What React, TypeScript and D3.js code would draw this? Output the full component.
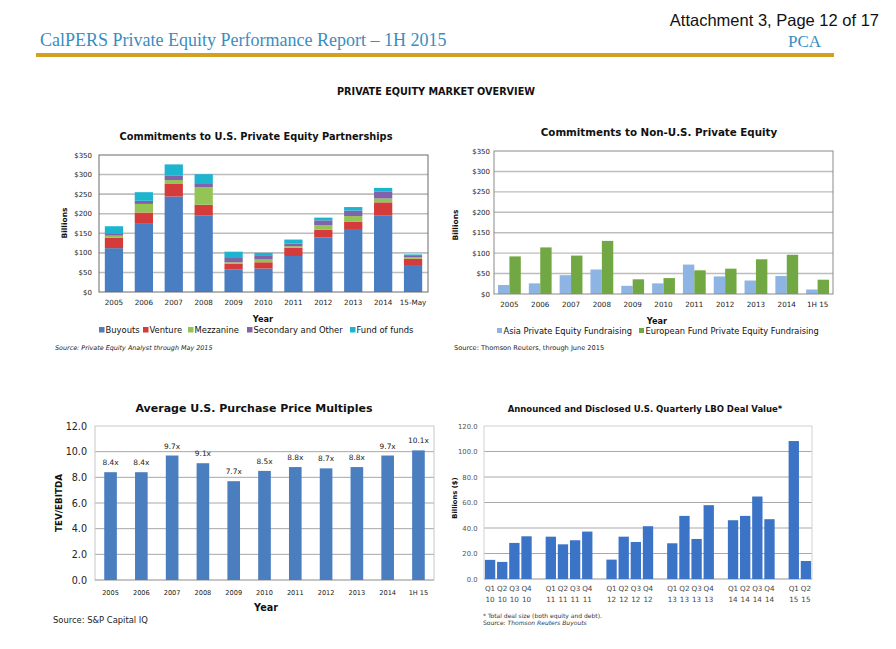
import React from 'react';
import * as d3 from 'd3';

// ---------- Data ----------
const usYears = ['2005', '2006', '2007', '2008', '2009', '2010', '2011', '2012', '2013', '2014', '15-May'];
const usSeries = ['Buyouts', 'Venture', 'Mezzanine', 'Secondary and Other', 'Fund of funds'];
const buyouts = [112, 176, 244, 195, 58, 60, 92, 139, 161, 196, 69];
const venture = [27, 27, 32, 28, 14, 16, 21, 20, 19, 33, 16];
const mezzanine = [5, 22, 10, 45, 4, 7, 4, 12, 14, 10, 4];
const secondary = [6, 8, 11, 10, 13, 11, 7, 12, 14, 17, 3];
const fundOfFunds = [18, 22, 29, 23, 14, 6, 10, 7, 9, 10, 4];
const usTicks = [0, 50, 100, 150, 200, 250, 300, 350];

const nonUsYears = ['2005', '2006', '2007', '2008', '2009', '2010', '2011', '2012', '2013', '2014', '1H 15'];
const nonUsSeries = ['Asia Private Equity Fundraising', 'European Fund Private Equity Fundraising'];
const asia = [22, 26, 46, 60, 20, 26, 72, 43, 33, 44, 11];
const europe = [92, 114, 94, 130, 36, 39, 58, 62, 85, 96, 35];

const multYears = ['2005', '2006', '2007', '2008', '2009', '2010', '2011', '2012', '2013', '2014', '1H 15'];
const multiples = [8.4, 8.4, 9.7, 9.1, 7.7, 8.5, 8.8, 8.7, 8.8, 9.7, 10.1];
const multTicks = [0, 2, 4, 6, 8, 10, 12];

// null entries are the gaps between years
const lboQuarters = ['Q1 10', 'Q2 10', 'Q3 10', 'Q4 10', null, 'Q1 11', 'Q2 11', 'Q3 11', 'Q4 11', null,
  'Q1 12', 'Q2 12', 'Q3 12', 'Q4 12', null, 'Q1 13', 'Q2 13', 'Q3 13', 'Q4 13', null,
  'Q1 14', 'Q2 14', 'Q3 14', 'Q4 14', null, 'Q1 15', 'Q2 15'];
const lboValues = [15, 13.4, 28.3, 33.5, null, 33.2, 27.2, 30.4, 37.2, null,
  15.2, 33.2, 29, 41.4, null, 28, 49.5, 31.4, 57.9, null,
  46.1, 49.5, 64.7, 46.9, null, 108.2, 14.1];
const lboTicks = [0, 20, 40, 60, 80, 100, 120];

// ---------- Styles ----------
const F = "'DejaVu Sans', Verdana, sans-serif";
const usColors = ['#4a7ec2', '#d63b3b', '#93c456', '#8063a8', '#1db4cf'];
const nonUsColors = ['#8db4e3', '#72a844'];
const multColor = '#4a7ebf';
const lboColor = '#3b73c6';

function UsChart() {
  const x = d3.scaleBand().domain(usYears).range([99, 428]).paddingInner(0.39).paddingOuter(0.195);
  const y = d3.scaleLinear().domain([0, 350]).range([292, 155]);
  const rows = usYears.map((yr, i) => ({
    year: yr,
    'Buyouts': buyouts[i],
    'Venture': venture[i],
    'Mezzanine': mezzanine[i],
    'Secondary and Other': secondary[i],
    'Fund of funds': fundOfFunds[i],
  }));
  const stacked = d3.stack<any>().keys(usSeries)(rows);
  const legendX = [99, 143, 188, 247, 350];
  return (
    <g fontFamily={F}>
      <text x={256} y={140} textAnchor="middle" fontSize={9.8} fontWeight="bold" fill="#111">
        Commitments to U.S. Private Equity Partnerships
      </text>
      {usTicks.filter(t => t > 0 && t < 350).map(t => (
        <line key={t} x1={99} x2={428} y1={y(t)} y2={y(t)} stroke="#bdbdbd" strokeWidth={1.6} />
      ))}
      {stacked.map((s, si) => (
        <g key={s.key} fill={usColors[si]}>
          {s.map((d, i) => (
            <rect key={i} x={x(usYears[i])} width={x.bandwidth()} y={y(d[1])} height={y(d[0]) - y(d[1])} />
          ))}
        </g>
      ))}
      <rect x={99} y={155} width={329} height={137} fill="none" stroke="#6a6a6a" strokeWidth={1} />
      {usTicks.map(t => (
        <text key={t} x={92} y={y(t) + 2.5} textAnchor="end" fontSize={7} fill="#222">${t}</text>
      ))}
      {usYears.map(yr => (
        <text key={yr} x={(x(yr) as number) + x.bandwidth() / 2} y={305} textAnchor="middle" fontSize={7.2} fill="#222">{yr}</text>
      ))}
      <text transform="translate(67,223) rotate(-90)" textAnchor="middle" fontSize={7.5} fontWeight="bold" fill="#111">Billions</text>
      <text x={263} y={322} textAnchor="middle" fontSize={8.2} fontWeight="bold" fill="#111">Year</text>
      {usSeries.map((s, i) => (
        <g key={s}>
          <rect x={legendX[i]} y={327} width={5.5} height={5.5} fill={usColors[i]} />
          <text x={legendX[i] + 6.5} y={333} fontSize={8.4} fill="#111">{s}</text>
        </g>
      ))}
      <text x={55} y={349.5} fontSize={6.4} fontStyle="italic" fill="#222">Source: Private Equity Analyst through May  2015</text>
    </g>
  );
}

function NonUsChart() {
  const x = d3.scaleBand().domain(nonUsYears).range([494, 833]).paddingInner(0.26).paddingOuter(0.13);
  const xi = d3.scaleBand().domain(['asia', 'europe']).range([0, x.bandwidth()]);
  const y = d3.scaleLinear().domain([0, 350]).range([294, 151]);
  const series = [asia, europe];
  const legendX = [497, 639];
  return (
    <g fontFamily={F}>
      <text x={659} y={136} textAnchor="middle" fontSize={10.3} fontWeight="bold" fill="#111">
        Commitments to Non-U.S. Private Equity
      </text>
      {usTicks.filter(t => t > 0 && t < 350).map(t => (
        <line key={t} x1={494} x2={833} y1={y(t)} y2={y(t)} stroke="#bdbdbd" strokeWidth={1.4} />
      ))}
      {series.map((vals, si) => (
        <g key={si} fill={nonUsColors[si]}>
          {vals.map((v, i) => (
            <rect key={i} x={(x(nonUsYears[i]) as number) + (xi(si === 0 ? 'asia' : 'europe') as number)}
              width={xi.bandwidth()} y={y(v)} height={y(0) - y(v)} />
          ))}
        </g>
      ))}
      <rect x={494} y={151} width={339} height={143} fill="none" stroke="#8a8a8a" strokeWidth={1} />
      {usTicks.map(t => (
        <text key={t} x={490} y={y(t) + 2.5} textAnchor="end" fontSize={7} fill="#222">${t}</text>
      ))}
      {nonUsYears.map(yr => (
        <text key={yr} x={(x(yr) as number) + x.bandwidth() / 2} y={307} textAnchor="middle" fontSize={7.2} fill="#222">{yr}</text>
      ))}
      <text transform="translate(458,225) rotate(-90)" textAnchor="middle" fontSize={7.5} fontWeight="bold" fill="#111">Billions</text>
      <text x={657} y={323.5} textAnchor="middle" fontSize={8.2} fontWeight="bold" fill="#111">Year</text>
      {nonUsSeries.map((s, i) => (
        <g key={s}>
          <rect x={legendX[i]} y={328} width={5} height={5} fill={nonUsColors[i]} />
          <text x={legendX[i] + 6.5} y={333.5} fontSize={8.3} fill="#111">{s}</text>
        </g>
      ))}
      <text x={454} y={350} fontSize={6.6} fill="#222">Source:  Thomson Reuters, through June 2015</text>
    </g>
  );
}

function MultChart() {
  const x = d3.scaleBand().domain(multYears).range([95, 434]).paddingInner(0.59).paddingOuter(0.3);
  const y = d3.scaleLinear().domain([0, 12]).range([580, 426]);
  return (
    <g fontFamily={F}>
      <text x={254} y={411.5} textAnchor="middle" fontSize={11} fontWeight="bold" fill="#111">
        Average U.S. Purchase Price Multiples
      </text>
      {multTicks.filter(t => t > 0 && t < 12).map(t => (
        <line key={t} x1={95} x2={434} y1={y(t)} y2={y(t)} stroke="#a8a8a8" strokeWidth={1} />
      ))}
      <rect x={95} y={426} width={339} height={154} fill="none" stroke="#c8c8c8" strokeWidth={1} />
      <line x1={95} x2={434} y1={580} y2={580} stroke="#a8a8a8" strokeWidth={1} />
      {multiples.map((v, i) => (
        <g key={i}>
          <rect x={x(multYears[i])} width={x.bandwidth()} y={y(v)} height={y(0) - y(v)} fill={multColor} />
          <text x={(x(multYears[i]) as number) + x.bandwidth() / 2} y={y(v) - 7} textAnchor="middle" fontSize={7.4} fill="#222">
            {v.toFixed(1)}x
          </text>
        </g>
      ))}
      {multTicks.map(t => (
        <text key={t} x={87} y={y(t) + 3.5} textAnchor="end" fontSize={9.6} fill="#222">{t.toFixed(1)}</text>
      ))}
      {multYears.map(yr => (
        <text key={yr} x={(x(yr) as number) + x.bandwidth() / 2} y={594.5} textAnchor="middle" fontSize={6.6} fill="#222">{yr}</text>
      ))}
      <text transform="translate(62,503) rotate(-90)" textAnchor="middle" fontSize={8.8} fontWeight="bold" fill="#111">TEV/EBITDA</text>
      <text x={266} y={611} textAnchor="middle" fontSize={9.6} fontWeight="bold" fill="#111">Year</text>
      <text x={53} y={622.5} fontSize={8.4} fill="#222">Source: S&amp;P Capital IQ</text>
    </g>
  );
}

function LboChart() {
  const idx = lboQuarters.map((_, i) => i);
  const x = d3.scaleBand<number>().domain(idx).range([484, 812]).paddingInner(0.15).paddingOuter(0.075);
  const y = d3.scaleLinear().domain([0, 120]).range([579, 426]);
  return (
    <g fontFamily={F}>
      <text x={645} y={411.5} textAnchor="middle" fontSize={8.5} fontWeight="bold" fill="#111">
        Announced and Disclosed U.S. Quarterly LBO Deal Value*
      </text>
      {lboTicks.filter(t => t > 0 && t < 120).map(t => (
        <line key={t} x1={484} x2={812} y1={y(t)} y2={y(t)} stroke="#a9a9a9" strokeWidth={1} />
      ))}
      <rect x={484} y={426} width={328} height={153} fill="none" stroke="#d2d2d2" strokeWidth={1} />
      <line x1={484} x2={812} y1={579} y2={579} stroke="#a9a9a9" strokeWidth={1} />
      {lboValues.map((v, i) => v == null ? null : (
        <rect key={i} x={x(i)} width={x.bandwidth()} y={y(v)} height={y(0) - y(v)} fill={lboColor} />
      ))}
      {lboTicks.map(t => (
        <text key={t} x={477.5} y={y(t) + 2.5} textAnchor="end" fontSize={6.8} fill="#555">{t.toFixed(1)}</text>
      ))}
      {lboQuarters.map((q, i) => q == null ? null : (
        <text key={i} textAnchor="middle" fontSize={7.2} fill="#444">
          <tspan x={(x(i) as number) + x.bandwidth() / 2} y={591}>{q.split(' ')[0]}</tspan>
          <tspan x={(x(i) as number) + x.bandwidth() / 2} y={601.5}>{q.split(' ')[1]}</tspan>
        </text>
      ))}
      <text transform="translate(457,498) rotate(-90)" textAnchor="middle" fontSize={6.8} fontWeight="bold" fill="#111">Billions ($)</text>
      <text x={483} y={617.5} fontSize={6} fill="#333">* Total deal size (both equity and debt).</text>
      <text x={483} y={624.5} fontSize={6} fill="#333">Source: <tspan fontStyle="italic">Thomson Reuters Buyouts</tspan></text>
    </g>
  );
}

export default function App() {
  return (
    <svg width={896} height={649} viewBox="0 0 896 649"
      style={{ position: 'absolute', left: 0, top: 0, background: '#fff' }}>
      <rect x={0} y={0} width={896} height={649} fill="#fff" />
      <text x={879} y={26} textAnchor="end" fontFamily="'Liberation Sans', Arial, sans-serif" fontSize={16.5} fill="#111">
        Attachment 3, Page 12 of 17
      </text>
      <text x={40} y={46} fontFamily="'Liberation Serif', serif" fontSize={18} fill="#3a8dbf">
        CalPERS Private Equity Performance Report – 1H 2015
      </text>
      <text x={788} y={47} fontFamily="'Liberation Serif', serif" fontSize={17} fill="#3a8dbf">PCA</text>
      <line x1={36} x2={834} y1={55} y2={55} stroke="#d4a020" strokeWidth={4} />
      <text x={436} y={95} textAnchor="middle" fontFamily="'Liberation Sans Narrow', 'DejaVu Sans Condensed', sans-serif"
        fontSize={10} fontWeight="bold" fill="#111" textLength={198} lengthAdjust="spacingAndGlyphs">
        PRIVATE EQUITY MARKET OVERVIEW
      </text>
      <UsChart />
      <NonUsChart />
      <MultChart />
      <LboChart />
    </svg>
  );
}
